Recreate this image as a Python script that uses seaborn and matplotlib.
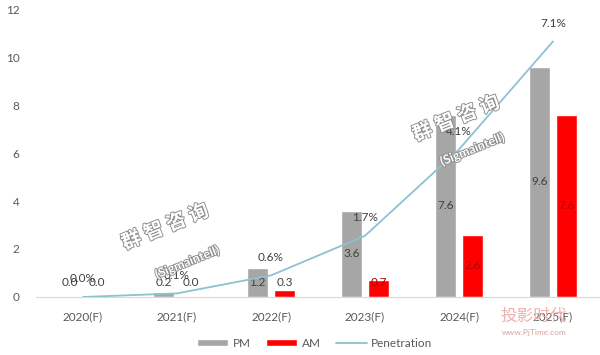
import matplotlib
matplotlib.use('Agg')
import matplotlib.pyplot as plt
import matplotlib.patheffects as pe
from matplotlib.patches import Patch
from matplotlib.lines import Line2D
import seaborn as sns
import pandas as pd

years = ['2020(F)', '2021(F)', '2022(F)', '2023(F)', '2024(F)', '2025(F)']
pm = [0.0, 0.2, 1.2, 3.6, 7.6, 9.6]
am = [0.0, 0.0, 0.3, 0.7, 2.6, 7.6]
penetration = [0.0, 0.1, 0.6, 1.7, 4.1, 7.1]

pm_color = '#a6a6a6'
am_color = '#ff0000'
line_color = '#8cc2d2'
text_color = '#595959'

sns.set_theme(style='white')
plt.rcParams['font.family'] = ['Lato', 'Noto Sans CJK SC', 'DejaVu Sans']

df = pd.DataFrame({
    'year': years * 2,
    'value': pm + am,
    'type': ['PM'] * len(years) + ['AM'] * len(years),
})

fig = plt.figure(figsize=(6, 3.55), dpi=100)
ax = fig.add_axes([0.06, 0.1634, 0.94, 0.8112])

sns.barplot(data=df, x='year', y='value', hue='type', order=years,
            hue_order=['PM', 'AM'], palette={'PM': pm_color, 'AM': am_color},
            width=0.57, gap=0.22, saturation=1, ax=ax, legend=False)

ax.set_ylim(0, 12)
ax.set_xlim(-0.5, len(years) - 0.5)
ax.set_yticks(range(0, 13, 2))
ax.set_xlabel('')
ax.set_ylabel('')
ax.tick_params(axis='both', length=0, labelsize=8.5, labelcolor=text_color)
ax.tick_params(axis='x', pad=10)
ax.tick_params(axis='y', pad=12)
for s in ['top', 'right', 'left']:
    ax.spines[s].set_visible(False)
ax.spines['bottom'].set_color('#d9d9d9')
ax.spines['bottom'].set_linewidth(0.8)

# bar value labels
for cont, vals, kind in zip(ax.containers, [pm, am], ['PM', 'AM']):
    for patch, v in zip(cont.patches, vals):
        xc = patch.get_x() + patch.get_width() / 2
        y = max(v / 2, 0.6)
        col = '#404040'
        if kind == 'AM' and v >= 0.6:
            col = '#b00000'
        ax.text(xc, y, f'{v:.1f}', ha='center', va='center',
                fontsize=8.5, color=col)

# penetration on hidden secondary axis
ax2 = ax.twinx()
sns.lineplot(x=list(range(len(years))), y=penetration, ax=ax2,
             color=line_color, linewidth=1.3)
ax2.set_ylim(0, 8.0)
ax2.set_yticks([])
for s in ax2.spines.values():
    s.set_visible(False)
for i, p in enumerate(penetration):
    ax2.annotate(f'{p:.1f}%', (i, p), xytext=(0, 13), textcoords='offset points',
                 ha='center', va='center', fontsize=8.5, color='#404040')

# watermarks
outline = [pe.withStroke(linewidth=1.3, foreground='#8c8c8c')]
wm = dict(color='white', fontweight='bold', rotation=22, ha='center', va='center',
          path_effects=outline, zorder=5)
fig.text(0.275, 0.363, '群 智 咨 询', fontsize=14, **wm)
fig.text(0.312, 0.262, '(Sigmaintell)', fontsize=9, **wm)
fig.text(0.76, 0.668, '群 智 咨 询', fontsize=14, **wm)
fig.text(0.787, 0.580, '(Sigmaintell)', fontsize=9, **wm)
fig.text(0.89, 0.11, '投影时代', fontsize=12, color='#f0b0b0', ha='center', va='center')
fig.text(0.89, 0.062, 'www.PjTime.com', fontsize=6, color='#d9a0a0', ha='center', va='center')

# legend
handles = [Patch(facecolor=pm_color, label='PM'),
           Patch(facecolor=am_color, label='AM'),
           Line2D([0], [0], color=line_color, linewidth=1.3, label='Penetration')]
fig.legend(handles=handles, loc='center', bbox_to_anchor=(0.525, 0.033), ncol=3,
           frameon=False, fontsize=8.5, labelcolor=text_color, handlelength=2.6,
           handleheight=0.55, columnspacing=1.3, handletextpad=0.4)

fig.savefig('out.png', dpi=100)
